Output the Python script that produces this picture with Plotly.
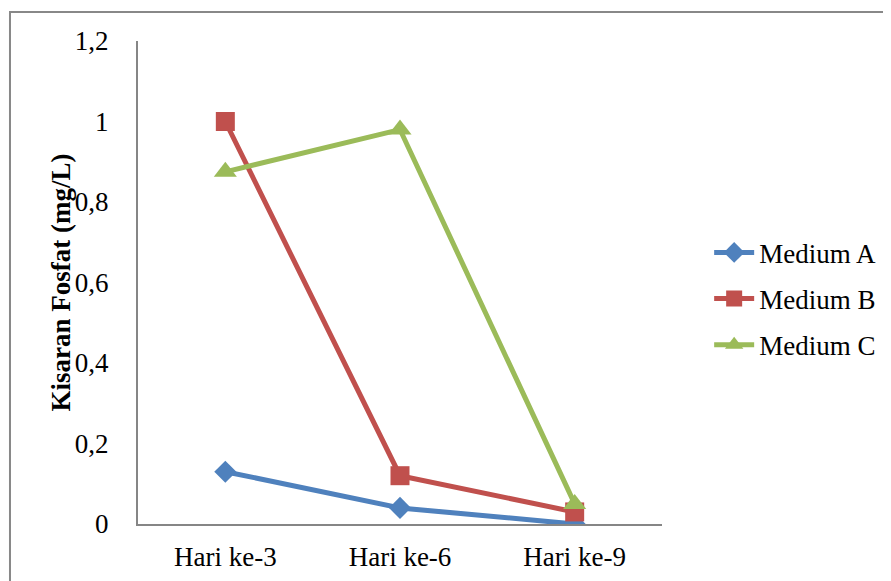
import plotly.graph_objects as go

categories = ["Hari ke-3", "Hari ke-6", "Hari ke-9"]
medium_a = [0.13, 0.04, 0.0]
medium_b = [1.0, 0.12, 0.03]
medium_c = [0.875, 0.98, 0.05]
y_ticks = [0, 0.2, 0.4, 0.6, 0.8, 1.0, 1.2]
y_tick_labels = ["0", "0,2", "0,4", "0,6", "0,8", "1", "1,2"]
y_title = "Kisaran Fosfat (mg/L)"

FONT = "Liberation Serif, Times New Roman, serif"
FS = 27

fig = go.Figure()
series = [
    ("Medium A", medium_a, "#4F81BD", "diamond", 17),
    ("Medium B", medium_b, "#C0504D", "square", 19),
    ("Medium C", medium_c, "#9BBB59", "triangle-up", 20),
]
for name, vals, color, sym, size in series:
    fig.add_trace(go.Scatter(
        x=categories, y=vals, name=name, mode="lines+markers",
        legendgroup=name,
        line=dict(color=color, width=5),
        marker=dict(symbol=sym, size=size, color=color),
    ))

fig.update_layout(
    width=891, height=581,
    margin=dict(l=130, r=237, t=33, b=65, autoexpand=False),
    paper_bgcolor="white", plot_bgcolor="white",
    font=dict(family=FONT, size=FS, color="black"),
    showlegend=True,
    legend=dict(x=1.09, xanchor="left", y=0.466, yanchor="middle",
                font=dict(family=FONT, size=FS, color="black"),
                tracegroupgap=8, itemwidth=40, bgcolor="rgba(0,0,0,0)"),
    xaxis=dict(
        type="category", range=[-0.5, 2.5], automargin=False,
        showline=True, linecolor="#868686", linewidth=2,
        showgrid=False, zeroline=False, ticks="",
        ticklabelstandoff=8,
    ),
    yaxis=dict(
        range=[0, 1.2], tickvals=y_ticks, ticktext=y_tick_labels,
        automargin=False,
        showline=True, linecolor="#868686", linewidth=2,
        showgrid=False, zeroline=False, ticks="",
        ticklabelstandoff=22,
    ),
    annotations=[dict(text="<b>" + y_title + "</b>", textangle=-90,
                      xref="paper", yref="paper", x=-0.147, y=0.5,
                      xanchor="center", yanchor="middle", showarrow=False,
                      font=dict(family=FONT, size=FS, color="black"))],
    shapes=[dict(type="rect", xref="paper", yref="paper",
                 x0=-0.2443, y0=-0.15, x1=1.46, y1=1.06,
                 line=dict(color="#888888", width=2), layer="below")],
)

fig.write_html("out.html")
